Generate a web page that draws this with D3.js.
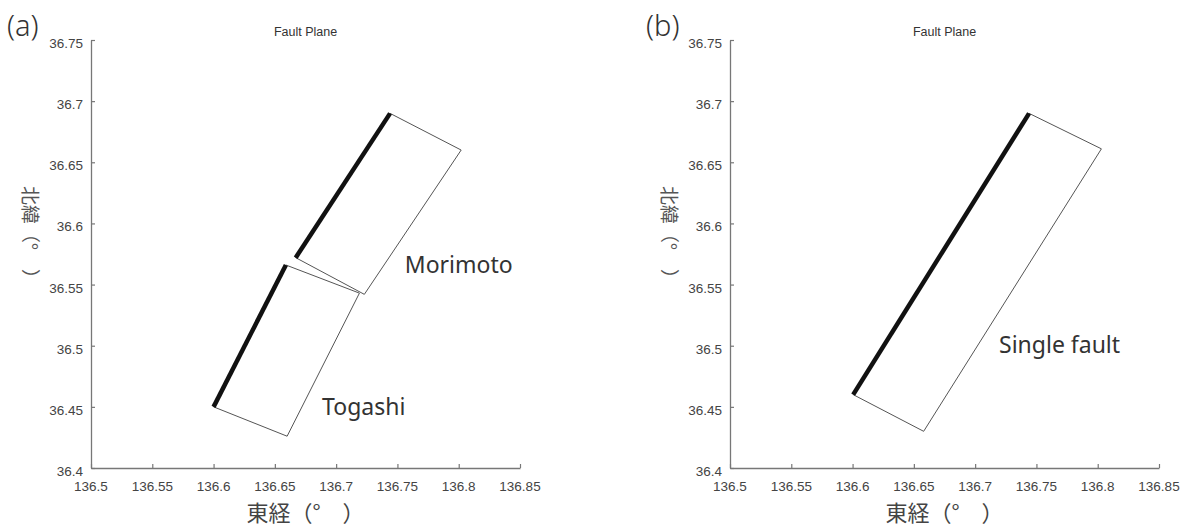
<!DOCTYPE html>
<html>
<head>
<meta charset="utf-8">
<script src="https://cdn.jsdelivr.net/npm/d3@7"></script>
<style>
  body { margin: 0; background: #fff; }
  svg text { font-family: "Liberation Sans", Arial, sans-serif; }
</style>
</head>
<body>
<div id="chart"></div>
<script>
// fault outlines, [lon, lat] corners, first two points = top edge (thick line)
var morimoto = [[136.667, 36.572], [136.744, 36.690], [136.802, 36.660], [136.723, 36.542]];
var togashi = [[136.600, 36.450], [136.659, 36.566], [136.719, 36.543], [136.660, 36.426]];
var singleFault = [[136.6005, 36.460], [136.744, 36.690], [136.803, 36.661], [136.658, 36.430]];

var xTicks = [136.5, 136.55, 136.6, 136.65, 136.7, 136.75, 136.8, 136.85];
var yTicks = [36.4, 36.45, 36.5, 36.55, 36.6, 36.65, 36.7, 36.75];

var panels = [
  { tag: '(a)', left: 91, faults: [morimoto, togashi],
    labels: [{ text: 'Morimoto', lon: 136.756, lat: 36.5597 }, { text: 'Togashi', lon: 136.6885, lat: 36.4436 }] },
  { tag: '(b)', left: 730, faults: [singleFault],
    labels: [{ text: 'Single fault', lon: 136.7195, lat: 36.4938 }] }
];

var width = 1188, height = 529;
var plotTop = 40, plotBottom = 468, plotW = 429;

var svg = d3.select('#chart').append('svg')
  .attr('width', width)
  .attr('height', height);

panels.forEach(function (p) {
  var x = d3.scaleLinear().domain([136.5, 136.85]).range([p.left, p.left + plotW]);
  var y = d3.scaleLinear().domain([36.4, 36.75]).range([plotBottom, plotTop]);
  var g = svg.append('g');

  // axes, ticks pointing inward
  var xAxis = g.append('g')
    .attr('transform', 'translate(0,' + plotBottom + ')')
    .call(d3.axisTop(x).tickValues(xTicks).tickSize(4).tickSizeOuter(0).tickFormat(''));
  var yAxis = g.append('g')
    .attr('transform', 'translate(' + p.left + ',0)')
    .call(d3.axisRight(y).tickValues(yTicks).tickSize(4).tickSizeOuter(0).tickFormat(''));
  [xAxis, yAxis].forEach(function (a) {
    a.select('.domain').attr('stroke', '#777').attr('stroke-width', 1.3);
    a.selectAll('.tick line').attr('stroke', '#777').attr('stroke-width', 1.2);
  });

  // tick labels
  g.selectAll('.xl').data(xTicks).enter().append('text')
    .attr('x', function (d) { return x(d); })
    .attr('y', 491)
    .attr('text-anchor', 'middle')
    .attr('font-size', 13.5)
    .attr('fill', '#444')
    .text(function (d) { return d; });
  g.selectAll('.yl').data(yTicks).enter().append('text')
    .attr('x', p.left - 8)
    .attr('y', function (d) { return y(d) + 8; })
    .attr('text-anchor', 'end')
    .attr('font-size', 13.5)
    .attr('fill', '#444')
    .text(function (d) { return d; });

  // title and panel tag
  g.append('text')
    .attr('x', p.left + plotW / 2).attr('y', 36)
    .attr('text-anchor', 'middle')
    .attr('font-size', 12.5)
    .attr('fill', '#333')
    .text('Fault Plane');
  g.append('text')
    .attr('x', p.left - 84).attr('y', 36)
    .attr('font-size', 29)
    .style('font-family', '"Noto Sans", sans-serif')
    .style('font-weight', 300)
    .attr('fill', '#333')
    .text(p.tag);

  // axis titles
  g.append('text')
    .attr('x', p.left + plotW / 2).attr('y', 521)
    .attr('text-anchor', 'middle')
    .attr('font-size', 22)
    .style('font-family', '"Noto Sans CJK JP", sans-serif')
    .attr('fill', '#444')
    .text('東経（°　）');
  g.append('text')
    .attr('transform', 'translate(' + (p.left - 61) + ',237) rotate(90)')
    .attr('text-anchor', 'middle')
    .attr('dy', '0.35em')
    .attr('font-size', 19)
    .style('font-family', '"Noto Sans CJK JP", sans-serif')
    .attr('fill', '#555')
    .text('北緯（°　）');

  // fault planes
  var line = d3.line().x(function (d) { return x(d[0]); }).y(function (d) { return y(d[1]); });
  p.faults.forEach(function (f) {
    g.append('path')
      .attr('d', line(f) + 'Z')
      .attr('fill', 'none')
      .attr('stroke', '#555')
      .attr('stroke-width', 1);
    g.append('path')
      .attr('d', line(f.slice(0, 2)))
      .attr('fill', 'none')
      .attr('stroke', '#111')
      .attr('stroke-width', 4.5);
  });

  p.labels.forEach(function (l) {
    g.append('text')
      .attr('x', x(l.lon)).attr('y', y(l.lat))
      .attr('font-size', 23)
      .style('font-family', '"Noto Sans", sans-serif')
      .attr('fill', '#333')
      .text(l.text);
  });
});
</script>
</body>
</html>
